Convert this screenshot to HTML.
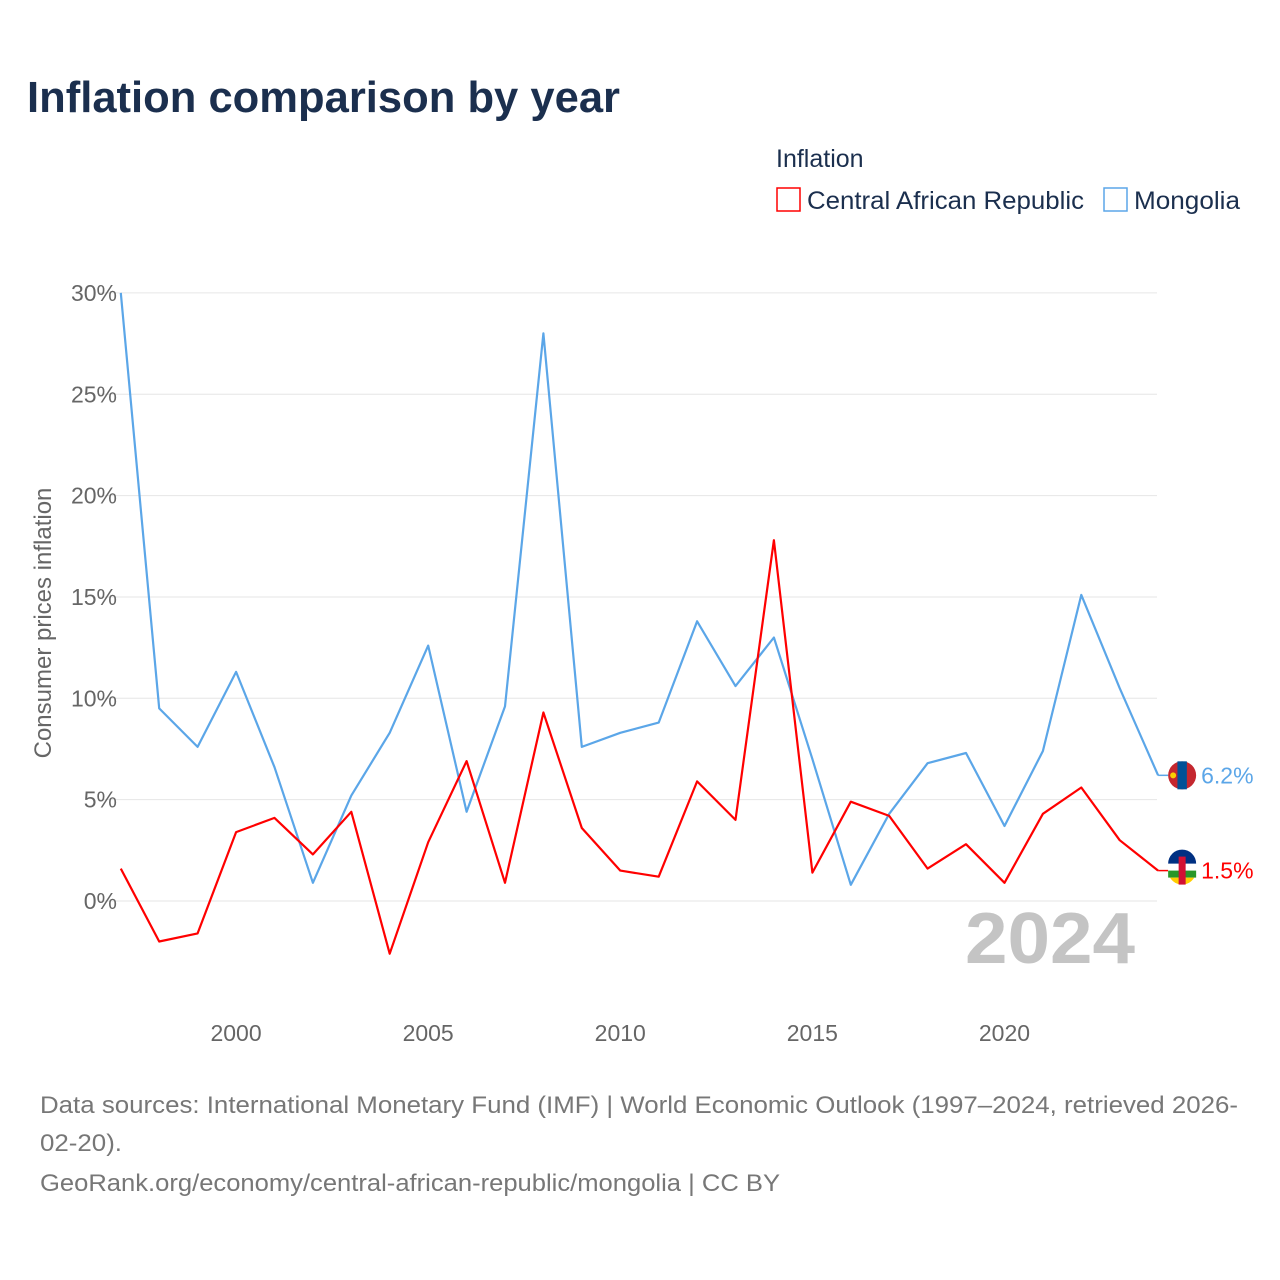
<!DOCTYPE html>
<html><head><meta charset="utf-8"><style>
body{margin:0;background:#fff;font-family:"Liberation Sans",sans-serif;}
svg{display:block}
</style></head><body>
<svg id="chart" width="1280" height="1280" xmlns="http://www.w3.org/2000/svg">
<rect width="1280" height="1280" fill="#fff"/>
<text x="27" y="112" font-size="44" font-weight="bold" fill="#1b2f4e" textLength="593" lengthAdjust="spacingAndGlyphs">Inflation comparison by year</text>
<text x="776" y="167" font-size="25" fill="#1b2f4e">Inflation</text>
<g><rect x="777" y="188" width="23" height="23" fill="none" stroke="#ff0000" stroke-width="1.5"/><text x="807" y="209" font-size="25" fill="#1b2f4e" textLength="277" lengthAdjust="spacingAndGlyphs">Central African Republic</text></g>
<g><rect x="1104" y="188" width="23" height="23" fill="none" stroke="#5ba6e8" stroke-width="1.5"/><text x="1134" y="209" font-size="25" fill="#1b2f4e" textLength="106" lengthAdjust="spacingAndGlyphs">Mongolia</text></g>
<g id="grid"></g>
<g id="yticks"></g>
<g id="xticks"></g>
<text transform="translate(51,623) rotate(-90)" text-anchor="middle" font-size="24" fill="#666">Consumer prices inflation</text>
<text x="965" y="963" font-size="72" font-weight="bold" fill="#c4c4c4" textLength="170" lengthAdjust="spacingAndGlyphs">2024</text>
<g id="series"></g>
<text x="40" y="1113" font-size="24" fill="#777" textLength="1198" lengthAdjust="spacingAndGlyphs">Data sources: International Monetary Fund (IMF) | World Economic Outlook (1997–2024, retrieved 2026-</text>
<text x="40" y="1151" font-size="24" fill="#777" textLength="82" lengthAdjust="spacingAndGlyphs">02-20).</text>
<text x="40" y="1191" font-size="24" fill="#777" textLength="740" lengthAdjust="spacingAndGlyphs">GeoRank.org/economy/central-african-republic/mongolia | CC BY</text>
</svg>
<script>
const years=[1997,1998,1999,2000,2001,2002,2003,2004,2005,2006,2007,2008,2009,2010,2011,2012,2013,2014,2015,2016,2017,2018,2019,2020,2021,2022,2023,2024];
const mongolia=[30.0,9.5,7.6,11.3,6.6,0.9,5.2,8.3,12.6,4.4,9.6,28.0,7.6,8.3,8.8,13.8,10.6,13.0,7.0,0.8,4.3,6.8,7.3,3.7,7.4,15.1,10.5,6.2];
const car=[1.6,-2.0,-1.6,3.4,4.1,2.3,4.4,-2.6,2.9,6.9,0.9,9.3,3.6,1.5,1.2,5.9,4.0,17.8,1.4,4.9,4.2,1.6,2.8,0.9,4.3,5.6,3.0,1.5];
const yTicks=[0,5,10,15,20,25,30];
const xTicks=[2000,2005,2010,2015,2020];
const NS="http://www.w3.org/2000/svg";
const X=y=>120.8+(y-1997)*38.42;
const Y=v=>901-v*20.27;
function mk(t,a,p){const e=document.createElementNS(NS,t);for(const k in a)e.setAttribute(k,a[k]);p.appendChild(e);return e;}
const grid=document.getElementById('grid'),yt=document.getElementById('yticks'),xt=document.getElementById('xticks'),ser=document.getElementById('series');
yTicks.forEach(v=>{
 const l=mk('line',{x1:100,x2:1157,y1:Y(v),y2:Y(v),stroke:'#e6e6e6','stroke-width':1},grid);
 
 
 const t=mk('text',{x:117,y:Y(v)+8,'text-anchor':'end','font-size':23,fill:'#666'},yt);
 t.textContent=v+'%';
 
 
});
xTicks.forEach(v=>{
 const t=mk('text',{x:X(v),y:1041,'text-anchor':'middle','font-size':23,fill:'#666'},xt);
 t.textContent=v;
 
 
});
function line(vals,color,name,flag){
 const d=vals.map((v,i)=>(i?'L':'M')+X(years[i]).toFixed(1)+','+Y(v).toFixed(1)).join(' ');
 const p=mk('path',{d:d,fill:'none',stroke:color,'stroke-width':2.2,'stroke-linejoin':'round'},ser);
 
 
 const last=vals[vals.length-1],lx=X(years[years.length-1]),ly=Y(last);
 mk('line',{x1:lx,x2:lx+10,y1:ly,y2:ly,stroke:color,'stroke-width':1.5},ser);
 const g=mk('g',{},ser);
 
 
 flag(g,lx+24,ly);
 const t=mk('text',{x:lx+43,y:ly+8,'font-size':23,fill:color},ser);
 t.textContent=last.toFixed(1)+'%';
 
 
}
line(mongolia,'#5ba6e8','mongolia',(g,cx,cy)=>{
 mk('circle',{cx:cx,cy:cy,r:14,fill:'#c4272f'},g);
 mk('rect',{x:cx-4.7,y:cy-14,width:9.4,height:28,fill:'#015197'},g);
 mk('circle',{cx:cx-9,cy:cy,r:3,fill:'#f9cf02'},g);
});
line(car,'#ff0000','car',(g,cx,cy)=>{
 mk('circle',{cx:cx,cy:cy,r:14,fill:'#fff'},g);
 mk('path',{d:`M${cx-14},${cy-7} A14,14 0 0 1 ${cx+14},${cy-7} Z`,fill:'#003082'},g);
 mk('rect',{x:cx-14,y:cy,width:28,height:7,fill:'#289728'},g);
 mk('path',{d:`M${cx-12.1},${cy+7} L${cx+12.1},${cy+7} A14,14 0 0 1 ${cx-12.1},${cy+7} Z`,fill:'#ffce00'},g);
 mk('rect',{x:cx-3.5,y:cy-14,width:7,height:28,fill:'#d21034'},g);
});
</script>
</body></html>
